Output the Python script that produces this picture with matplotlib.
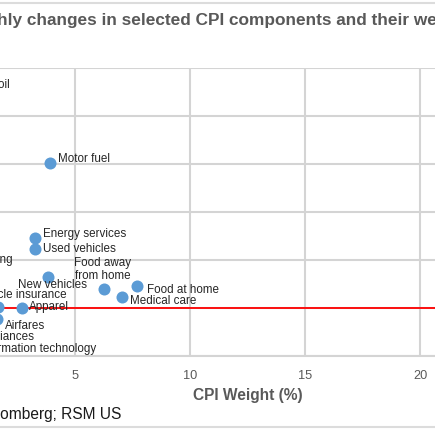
import matplotlib
matplotlib.use('Agg')
import matplotlib.pyplot as plt
from matplotlib.lines import Line2D

plt.rcParams['font.family'] = ['Liberation Sans', 'DejaVu Sans']

# CPI weight (%) and monthly change for each component
components = ['Fuel oil', 'Motor fuel', 'Car and\ntruck rental', 'Energy services',
              'Used vehicles', 'Lodging', 'New vehicles', 'Food away\nfrom home',
              'Food at home', 'Medical care', 'Motor vehicle insurance', 'Apparel',
              'Airfares', 'Appliances', 'Information technology']
weights = [0.15, 3.91, 0.10, 3.26, 3.26, 0.10, 3.83, 6.26, 7.70, 7.04, 1.65, 2.70, 1.60, 0.40, 0.40]
changes = [4.65, 3.02, 2.10, 1.46, 1.23, 1.00, 0.65, 0.40, 0.46, 0.23, 0.02, 0.00, -0.23, -0.45, -0.70]

# label placement: (dx, dy) in points, horizontal alignment
label_pos = [(6, 0, 'left'), (6, 3, 'left'), (-14, 0, 'center'), (6, 3, 'left'),
             (6, 0, 'left'), (6, 0, 'left'), (3, -6, 'center'), (-1, 14, 'center'),
             (7, -3, 'left'), (6, -3, 'left'), (5, 9, 'center'), (5, 1, 'left'),
             (6, -5, 'left'), (6, -5, 'left'), (6, -5, 'left')]

W, H = 435, 435
fig = plt.figure(figsize=(4.351, 4.351), dpi=100)

def fx(px):
    return px / W

def fy(py):
    return 1 - py / H

# axes extends past the left and right edges of the picture
ax = fig.add_axes([fx(-40), fy(356), fx(575), (356 - 68) / H])
ax.set_xlim(0, 25)
ax.set_ylim(-1, 5)
ax.set_xticks([0, 5, 10, 15, 20, 25])
ax.set_yticks(range(-1, 6))
ax.grid(True, color='#d4d4d4', linewidth=1.5)
for s in ['top', 'right', 'left']:
    ax.spines[s].set_visible(False)
ax.spines['bottom'].set_color('#d4d4d4')
ax.spines['bottom'].set_linewidth(1.5)
ax.tick_params(length=0, labelsize=9.2, labelcolor='#595959', pad=10)
ax.tick_params(axis='y', labelleft=False)
ax.set_xlabel('CPI Weight (%)', fontsize=11.2, fontweight='bold', color='#595959', labelpad=4)

ax.axhline(0, color='#ff0000', linewidth=1.3, zorder=2)
ax.scatter(weights, changes, s=75, color='#5b9bd5', zorder=3, linewidths=0)

for name, x, y, (dx, dy, ha) in zip(components, weights, changes, label_pos):
    ax.annotate(name, (x, y), xytext=(dx, dy), textcoords='offset points',
                ha=ha, va='center', fontsize=8.4, color='#262626',
                linespacing=1.05, annotation_clip=False)

fig.text(fx(-43.5), fy(25), 'Monthly changes in selected CPI components and their weights',
         fontsize=12.4, fontweight='bold', color='#595959', va='baseline', ha='left')
fig.text(fx(-80), fy(419), 'Source: Bloomberg; RSM US', fontsize=11.2,
         color='#1a1a1a', va='baseline', ha='left')

# thin frame lines at top and bottom of the chart box
fig.add_artist(Line2D([0, 1], [fy(2.7), fy(2.7)], color='#dcdcdc', linewidth=1.5))
fig.add_artist(Line2D([0, 1], [fy(427.5), fy(427.5)], color='#dcdcdc', linewidth=1.5))

fig.savefig('out.png', dpi=100)
